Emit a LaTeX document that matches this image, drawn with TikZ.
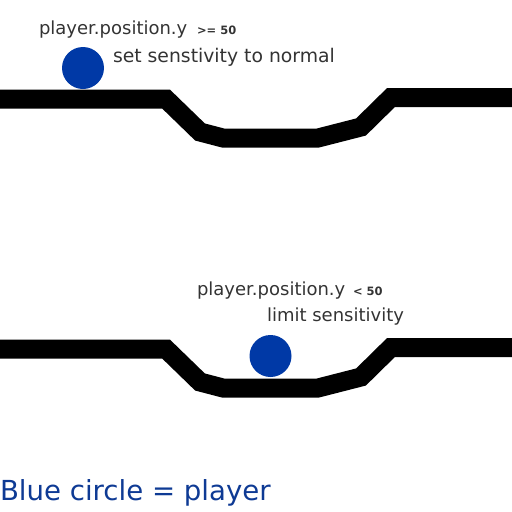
\documentclass[tikz,border=0pt]{standalone}
\usepackage{fontspec}
\setmainfont{DejaVu Sans}
\definecolor{playerblue}{RGB}{0,57,166}
\definecolor{captionblue}{RGB}{14,58,148}
\definecolor{labelgray}{RGB}{51,51,51}
\begin{document}
\begin{tikzpicture}[x=1pt,y=-1pt,inner sep=0pt,outer sep=0pt,
track/.style={line width=19pt,black,line join=miter},
player/.style={circle,fill=playerblue,minimum size=42pt},
label/.style={text=labelgray,anchor=base west,font=\fontsize{18}{20}\selectfont},
cond/.style={text=labelgray,anchor=base west,font=\fontsize{11.5}{13}\selectfont\bfseries}]
\useasboundingbox (0,0) rectangle (512,512);
% the two tracks
\foreach \dy in {0,250}
  \draw[track,shift={(0,\dy)}] (-10,99) -- (166,99) -- (200,132) -- (223,138) -- (318,138)
    -- (361,127) -- (391,97.5) -- (522,97.5);
% player on the flat part
\node[player] (playerTop) at (83,68) {};
\node[label] (posTop) at (39,34) {player.position.y};
\node[cond] (condTop) at (197,34) {>= 50};
\node[label,font=\fontsize{18.8}{20}\selectfont] (actTop) at (113,62) {set senstivity to normal};
% player in the dip
\node[player] (playerBot) at (270.5,356) {};
\node[label] (posBot) at (197,295) {player.position.y};
\node[cond] (condBot) at (353,295) {< 50};
\node[label] (actBot) at (267,321) {limit sensitivity};
% legend
\node[anchor=base west,text=captionblue,font=\fontsize{27.6}{30}\selectfont] (legend) at (0,500) {Blue circle = player};
\end{tikzpicture}
\end{document}
